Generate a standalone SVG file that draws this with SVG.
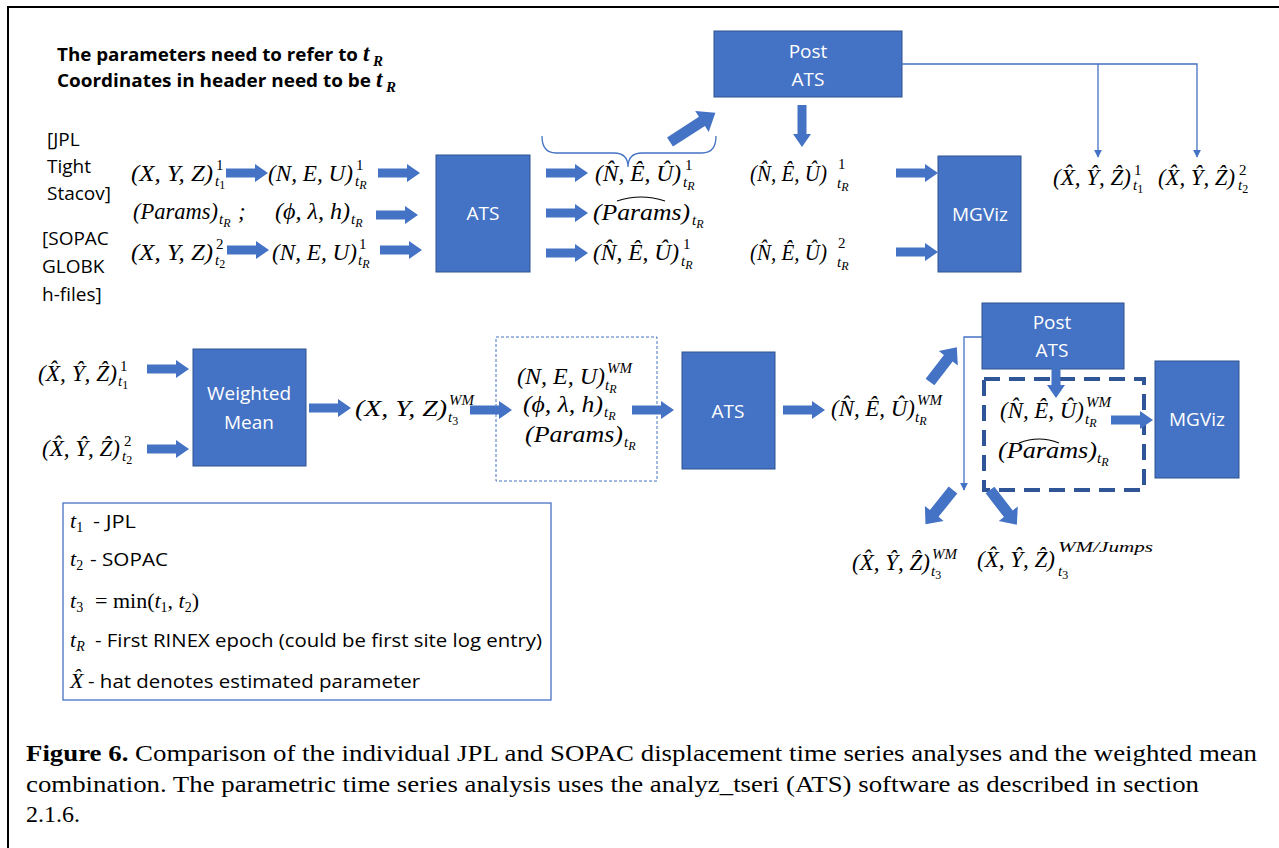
<svg xmlns="http://www.w3.org/2000/svg" width="1279" height="848" viewBox="0 0 1279 848">
<style>
.box{fill:#4472C4;stroke:#2F528F;stroke-width:1}
.bl{font-family:"Open Sans","Liberation Sans",sans-serif;font-size:19px;fill:#fff;text-anchor:middle}
.lbl{font-family:"Open Sans","Liberation Sans",sans-serif;font-size:19px;fill:#000}
.hdr{font-family:"Open Sans","Liberation Sans",sans-serif;font-size:18.5px;font-weight:bold;fill:#000}
.m{font-family:"Liberation Serif","DejaVu Serif",serif;font-style:italic;font-size:23px;fill:#000}
.s{font-size:15px}
.up{font-style:normal}
.ss{font-size:12px}
.ba{fill:#4472C4}
.thin{stroke:#4472C4;stroke-width:1.3;fill:none}
.cap{font-family:"Liberation Serif","Times New Roman",serif;font-size:24px;fill:#000}
.lg{font-family:"Open Sans","Liberation Sans",sans-serif;font-size:18px;fill:#000}
.lm{font-family:"Liberation Serif","DejaVu Serif",serif;font-style:italic;font-size:22px;fill:#000}
.hat{stroke:#000;stroke-width:1.1;fill:none}
</style>
<defs>
<path id="ar" d="M0,-4.5 H29 V-9 L42,0 L29,9 V4.5 H0 Z"/>
<path id="ad" d="M0,-5.5 H30 V-12 L44,0 L30,12 V5.5 H0 Z"/>
<path id="ad2" d="M0,-5.5 H38 V-12.5 L54,0 L38,12.5 V5.5 H0 Z"/>
<marker id="mk" viewBox="0 0 10 10" refX="9" refY="5" markerWidth="8" markerHeight="8" markerUnits="userSpaceOnUse" orient="auto">
<path d="M0,0 L10,5 L0,10 Z" fill="#4472C4"/>
</marker>
</defs>
<rect x="0" y="0" width="1279" height="848" fill="#fff"/>
<path d="M8,848 V7 H1279" stroke="#000" stroke-width="2" fill="none"/>

<g id="header">
<text class="hdr" x="57" y="61" textLength="301" lengthAdjust="spacingAndGlyphs">The parameters need to refer to</text>
<text class="m" font-weight="bold" font-size="24" x="363" y="61">t</text>
<text class="m s" font-weight="bold" x="373" y="66">R</text>
<text class="hdr" x="57" y="87" textLength="314" lengthAdjust="spacingAndGlyphs">Coordinates in header need to be</text>
<text class="m" font-weight="bold" font-size="24" x="376" y="87">t</text>
<text class="m s" font-weight="bold" x="386" y="92">R</text>
</g>

<g id="source-labels">
<text class="lbl" x="47" y="146">[JPL</text>
<text class="lbl" x="47" y="173">Tight</text>
<text class="lbl" x="47" y="200">Stacov]</text>
<text class="lbl" x="42" y="245">[SOPAC</text>
<text class="lbl" x="42" y="273">GLOBK</text>
<text class="lbl" x="42" y="301">h-files]</text>
</g>

<g id="inputs-top">
<text class="m" x="131" y="181" textLength="82" lengthAdjust="spacingAndGlyphs">(X, Y, Z)</text>
<text class="m s up" x="216" y="170">1</text>
<text class="m s" x="215" y="186">t<tspan class="up ss" dy="3">1</tspan></text>
<text class="m" x="268" y="181" textLength="85" lengthAdjust="spacingAndGlyphs">(N, E, U)</text>
<text class="m s up" x="356" y="170">1</text>
<text class="m s" x="355" y="186">t<tspan class="ss" dy="3">R</tspan></text>
<text class="m" x="133" y="219" textLength="85" lengthAdjust="spacingAndGlyphs">(Params)</text>
<text class="m s" x="219" y="224">t<tspan class="ss" dy="3">R</tspan></text>
<text class="m" x="238" y="219">;</text>
<text class="m" x="275" y="219" textLength="75" lengthAdjust="spacingAndGlyphs">(ϕ, λ, h)</text>
<text class="m s" x="351" y="224">t<tspan class="ss" dy="3">R</tspan></text>
<text class="m" x="131" y="260" textLength="82" lengthAdjust="spacingAndGlyphs">(X, Y, Z)</text>
<text class="m s up" x="216" y="249">2</text>
<text class="m s" x="215" y="265">t<tspan class="up ss" dy="3">2</tspan></text>
<text class="m" x="272" y="260" textLength="85" lengthAdjust="spacingAndGlyphs">(N, E, U)</text>
<text class="m s up" x="359" y="249">1</text>
<text class="m s" x="358" y="265">t<tspan class="ss" dy="3">R</tspan></text>
</g>

<g id="ats1">
<rect class="box" x="436" y="155" width="94" height="117"/>
<text class="bl" x="483" y="220">ATS</text>
</g>

<g id="outputs-top">
<text class="m" x="595" y="181" textLength="86" lengthAdjust="spacingAndGlyphs">(N&#x302;, E&#x302;, U&#x302;)</text>
<text class="m s up" x="685" y="170">1</text>
<text class="m s" x="683" y="187">t<tspan class="ss" dy="3">R</tspan></text>
<text class="m" x="593" y="220" textLength="97" lengthAdjust="spacingAndGlyphs">(Params)</text>
<path class="hat" d="M617,201 Q641,193 665,201"/>
<text class="m s" x="692" y="225">t<tspan class="ss" dy="3">R</tspan></text>
<text class="m" x="593" y="260" textLength="86" lengthAdjust="spacingAndGlyphs">(N&#x302;, E&#x302;, U&#x302;)</text>
<text class="m s up" x="683" y="249">1</text>
<text class="m s" x="681" y="266">t<tspan class="ss" dy="3">R</tspan></text>
</g>

<g id="post-ats1">
<rect class="box" x="714" y="31" width="188" height="66"/>
<text class="bl" x="808" y="58">Post</text>
<text class="bl" x="808" y="86">ATS</text>
</g>

<g id="post-outputs-top">
<text class="m" font-size="21" x="750" y="181" textLength="77" lengthAdjust="spacingAndGlyphs">(N&#x302;, E&#x302;, U&#x302;)</text>
<text class="m s up" x="838" y="169">1</text>
<text class="m s" x="837" y="188">t<tspan class="ss" dy="3">R</tspan></text>
<text class="m" font-size="21" x="750" y="260" textLength="77" lengthAdjust="spacingAndGlyphs">(N&#x302;, E&#x302;, U&#x302;)</text>
<text class="m s up" x="838" y="248">2</text>
<text class="m s" x="837" y="267">t<tspan class="ss" dy="3">R</tspan></text>
</g>

<g id="mgviz1">
<rect class="box" x="938" y="156" width="83" height="116"/>
<text class="bl" x="980" y="221">MGViz</text>
</g>

<g id="xyz-top">
<text class="m" x="1053" y="185" textLength="78" lengthAdjust="spacingAndGlyphs">(X&#x302;, Y&#x302;, Z&#x302;)</text>
<text class="m s up" x="1134" y="175">1</text>
<text class="m s" x="1133" y="190">t<tspan class="up ss" dy="3">1</tspan></text>
<text class="m" x="1158" y="185" textLength="77" lengthAdjust="spacingAndGlyphs">(X&#x302;, Y&#x302;, Z&#x302;)</text>
<text class="m s up" x="1239" y="175">2</text>
<text class="m s" x="1238" y="190">t<tspan class="up ss" dy="3">2</tspan></text>
</g>

<g id="inputs-bottom">
<text class="m" x="38" y="381" textLength="79" lengthAdjust="spacingAndGlyphs">(X&#x302;, Y&#x302;, Z&#x302;)</text>
<text class="m s up" x="120" y="371">1</text>
<text class="m s" x="118" y="386">t<tspan class="up ss" dy="3">1</tspan></text>
<text class="m" x="42" y="456" textLength="78" lengthAdjust="spacingAndGlyphs">(X&#x302;, Y&#x302;, Z&#x302;)</text>
<text class="m s up" x="124" y="446">2</text>
<text class="m s" x="122" y="461">t<tspan class="up ss" dy="3">2</tspan></text>
</g>

<g id="weighted-mean">
<rect class="box" x="193" y="349" width="113" height="117"/>
<text class="bl" x="249" y="400">Weighted</text>
<text class="bl" x="249" y="429">Mean</text>
</g>

<g id="xyz-wm">
<text class="m" x="355" y="416" textLength="92" lengthAdjust="spacingAndGlyphs">(X, Y, Z)</text>
<text class="m s" x="449" y="405">WM</text>
<text class="m s" x="448" y="422">t<tspan class="up ss" dy="3">3</tspan></text>
</g>

<g id="neu-wm-box">
<rect x="496" y="337" width="161" height="144" fill="none" stroke="#4472C4" stroke-width="1" stroke-dasharray="3,2"/>
<text class="m" x="517" y="384" textLength="88" lengthAdjust="spacingAndGlyphs">(N, E, U)</text>
<text class="m s" x="607" y="373">WM</text>
<text class="m s" x="605" y="390">t<tspan class="ss" dy="3">R</tspan></text>
<text class="m" x="523" y="412" textLength="80" lengthAdjust="spacingAndGlyphs">(ϕ, λ, h)</text>
<text class="m s" x="604" y="417">t<tspan class="ss" dy="3">R</tspan></text>
<text class="m" x="525" y="442" textLength="98" lengthAdjust="spacingAndGlyphs">(Params)</text>
<text class="m s" x="624" y="447">t<tspan class="ss" dy="3">R</tspan></text>
</g>

<g id="ats2">
<rect class="box" x="682" y="352" width="93" height="117"/>
<text class="bl" x="728" y="418">ATS</text>
</g>

<g id="neu-hat-wm">
<text class="m" x="831" y="416" textLength="84" lengthAdjust="spacingAndGlyphs">(N&#x302;, E&#x302;, U&#x302;)</text>
<text class="m s" x="917" y="405">WM</text>
<text class="m s" x="915" y="422">t<tspan class="ss" dy="3">R</tspan></text>
</g>

<g id="post-ats2">
<rect class="box" x="982" y="303" width="142" height="66"/>
<text class="bl" x="1052" y="329">Post</text>
<text class="bl" x="1052" y="357">ATS</text>
</g>

<g id="post-outputs-box">
<rect x="984" y="379" width="160" height="111" fill="none" stroke="#2F5597" stroke-width="4" stroke-dasharray="16,9"/>
<text class="m" x="1000" y="418" textLength="84" lengthAdjust="spacingAndGlyphs">(N&#x302;, E&#x302;, U&#x302;)</text>
<text class="m s" x="1086" y="407">WM</text>
<text class="m s" x="1085" y="424">t<tspan class="ss" dy="3">R</tspan></text>
<text class="m" x="998" y="458" textLength="99" lengthAdjust="spacingAndGlyphs">(Params)</text>
<path class="hat" d="M1019,443 Q1039,435 1059,443"/>
<text class="m s" x="1097" y="463">t<tspan class="ss" dy="3">R</tspan></text>
</g>

<g id="mgviz2">
<rect class="box" x="1155" y="361" width="84" height="117"/>
<text class="bl" x="1197" y="426">MGViz</text>
</g>

<g id="xyz-bottom">
<text class="m" x="852" y="570" textLength="78" lengthAdjust="spacingAndGlyphs">(X&#x302;, Y&#x302;, Z&#x302;)</text>
<text class="m s" x="932" y="559">WM</text>
<text class="m s" x="931" y="576">t<tspan class="up ss" dy="3">3</tspan></text>
<text class="m" x="977" y="567" textLength="78" lengthAdjust="spacingAndGlyphs">(X&#x302;, Y&#x302;, Z&#x302;)</text>
<text class="m s" x="1058" y="552" textLength="95" lengthAdjust="spacingAndGlyphs">WM/Jumps</text>
<text class="m s" x="1058" y="576">t<tspan class="up ss" dy="3">3</tspan></text>
</g>

<g id="connectors">
<g class="ba">
<use href="#ar" x="226" y="173"/>
<use href="#ar" x="378" y="173"/>
<use href="#ar" x="376" y="215"/>
<use href="#ar" x="227" y="250"/>
<use href="#ar" x="380" y="250"/>
<use href="#ar" x="546" y="173"/>
<use href="#ar" x="546" y="213"/>
<use href="#ar" x="546" y="253"/>
<use href="#ar" x="896" y="173"/>
<use href="#ar" x="896" y="252"/>
<use href="#ar" transform="translate(802,105) rotate(90)"/>
<use href="#ad2" transform="translate(670,142) rotate(-32.8)"/>
<use href="#ar" x="147" y="369"/>
<use href="#ar" x="147" y="449"/>
<use href="#ar" x="309" y="408"/>
<use href="#ar" x="470" y="410"/>
<use href="#ar" x="632" y="410"/>
<use href="#ar" x="783" y="410"/>
<use href="#ad" transform="translate(930,382) rotate(-52.4)"/>
<use href="#ar" transform="translate(1056,356) rotate(90)"/>
<use href="#ar" x="1111" y="420"/>
<use href="#ad" transform="translate(953,490) rotate(128.7)"/>
<use href="#ad" transform="translate(990,490) rotate(52.4)"/>
</g>
<path class="thin" d="M542,136 Q542,153 556,153 H614 Q628,153 628,167 Q628,153 642,153 H702 Q716,153 716,136" stroke-width="1"/>
<path class="thin" d="M902,64 H1197 V157" marker-end="url(#mk)"/>
<path class="thin" d="M1098,64 V157" marker-end="url(#mk)"/>
<path class="thin" d="M982,337 H964 V490" stroke-width="1" marker-end="url(#mk)"/>
</g>

<g id="legend">
<rect x="63" y="503" width="488" height="197" fill="none" stroke="#4472C4" stroke-width="1.3"/>
<text class="lm" x="70" y="528">t<tspan class="up" font-size="14" dy="4">1</tspan></text>
<text class="lg" x="93" y="528" textLength="43" lengthAdjust="spacingAndGlyphs">- JPL</text>
<text class="lm" x="70" y="566">t<tspan class="up" font-size="14" dy="4">2</tspan></text>
<text class="lg" x="90" y="566" textLength="78" lengthAdjust="spacingAndGlyphs">- SOPAC</text>
<text class="lm" x="70" y="608">t<tspan class="up" font-size="14" dy="4">3</tspan><tspan class="up" x="95" dy="-4">= min(</tspan><tspan>t</tspan><tspan class="up" font-size="14" dy="4">1</tspan><tspan class="up" dy="-4">, </tspan><tspan>t</tspan><tspan class="up" font-size="14" dy="4">2</tspan><tspan class="up" dy="-4">)</tspan></text>
<text class="lm" x="70" y="647">t<tspan font-size="14" dy="4">R</tspan></text>
<text class="lg" x="95" y="647" textLength="447" lengthAdjust="spacingAndGlyphs">- First RINEX epoch (could be first site log entry)</text>
<text class="lm" x="70" y="688">X&#x302;</text>
<text class="lg" x="88" y="688" textLength="332" lengthAdjust="spacingAndGlyphs">- hat denotes estimated parameter</text>
</g>

<g id="caption">
<text class="cap" x="26" y="761" textLength="1231" lengthAdjust="spacingAndGlyphs"><tspan font-weight="bold">Figure 6.</tspan> Comparison of the individual JPL and SOPAC displacement time series analyses and the weighted mean</text>
<text class="cap" x="26" y="792" textLength="1173" lengthAdjust="spacingAndGlyphs">combination. The parametric time series analysis uses the analyz_tseri (ATS) software as described in section</text>
<text class="cap" x="26" y="822">2.1.6.</text>
</g>
</svg>
